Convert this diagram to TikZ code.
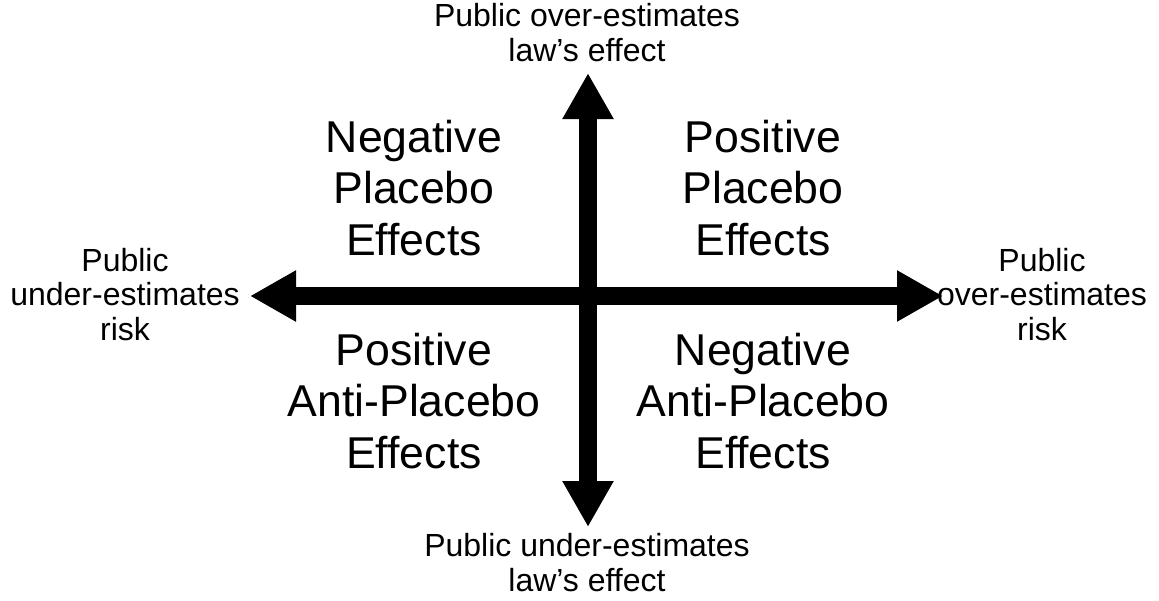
\documentclass[tikz,border=0pt]{standalone}
\usepackage{fontspec}
\setmainfont{Liberation Sans}
\usetikzlibrary{arrows.meta}

\begin{document}
\begin{tikzpicture}[x=0.5pt,y=-0.5pt]
\tikzstyle{axis}=[line width=8.75pt,arrows={Triangle[width=24pt,length=23pt]-Triangle[width=24pt,length=23pt]}]
\tikzstyle{quad}=[align=center,anchor=base,inner sep=0pt,font=\fontsize{22.3pt}{25.75pt}\selectfont]
\tikzstyle{side}=[align=center,anchor=base,inner sep=0pt,font=\fontsize{16pt}{17.25pt}\selectfont]
\useasboundingbox (0,0) rectangle (1159,600);
\coordinate (west) at (250,296);
\coordinate (east) at (943,296);
\coordinate (north) at (588,73);
\coordinate (south) at (588,527);
\draw[axis] (west) -- (east);
\draw[axis] (south) -- (north);
% quadrants
\node[quad] (negplacebo) at (414,255) {Negative\\Placebo\\Effects};
\node[quad] (posplacebo) at (763,255) {Positive\\Placebo\\Effects};
\node[quad] (posanti) at (414,468) {Positive\\Anti-Placebo\\Effects};
\node[quad] (neganti) at (763,468) {Negative\\Anti-Placebo\\Effects};
% axis ends
\node[side] (overeffect) at (587,61) {Public over-estimates\\law’s effect};
\node[side] (undereffect) at (587,591) {Public under-estimates\\law’s effect};
\node[side] (underrisk) at (125,340) {Public\\under-estimates\\risk};
\node[side] (overrisk) at (1042,340) {Public\\over-estimates\\risk};
\end{tikzpicture}
\end{document}
